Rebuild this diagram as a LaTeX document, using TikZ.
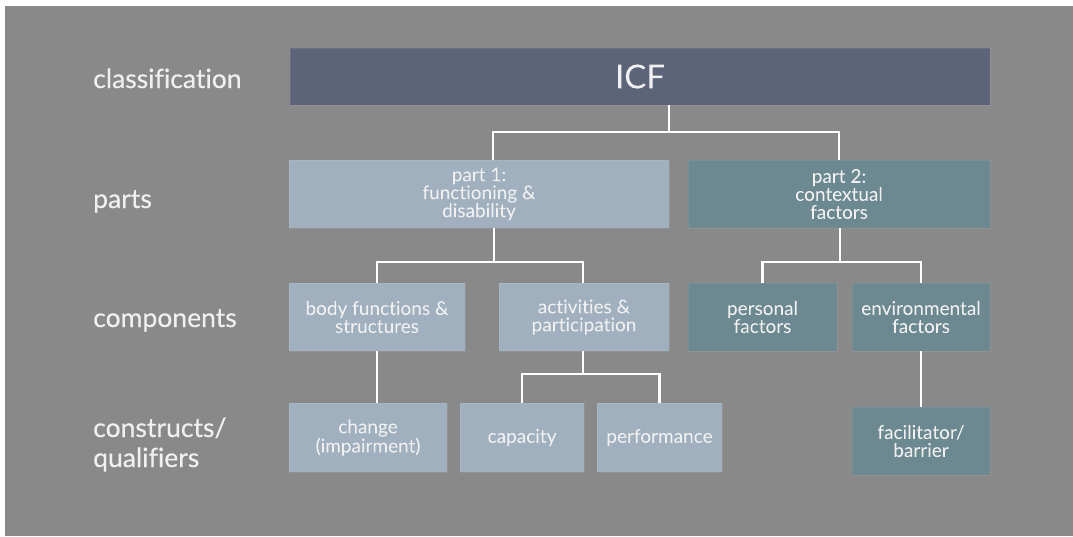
\documentclass[tikz,border=0pt]{standalone}
\usepackage{fontspec}
\setmainfont{Lato}[Ligatures=NoCommon, FakeBold=0.35]
\usetikzlibrary{calc}
\definecolor{bggray}{HTML}{898989}
\definecolor{slate}{HTML}{5D6479}
\definecolor{paleblue}{HTML}{A0B0BF}
\definecolor{teal}{HTML}{6C8890}
\definecolor{ink}{HTML}{F0F0F0}
\tikzset{
  box/.style={rectangle, inner sep=0pt, text=ink, align=center,
    font=\fontsize{19}{18}\selectfont, draw=white, draw opacity=0.08, line width=0.8pt},
  pbox/.style={box, fill=paleblue},
  tbox/.style={box, fill=teal},
  rowlabel/.style={anchor=base west, text=ink, inner sep=0pt, font=\fontsize{26.5}{30}\selectfont},
  link/.style={draw=white, line width=2.6pt}
}
\begin{document}
\begin{tikzpicture}[x=1pt, y=-1pt]
  % page and backdrop
  \fill[white] (0,0) rectangle (1073,536);
  \fill[bggray] (5,6) rectangle (1073,536);
  \useasboundingbox (0,0) rectangle (1073,536);

  % row labels
  \node[rowlabel] (lclass) at (93,88) {classification};
  \node[rowlabel] (lparts) at (93,208) {parts};
  \node[rowlabel] (lcomp) at (93,327) {components};
  \node[rowlabel] (lcons) at (93,437) {constructs/};
  \node[rowlabel] (lqual) at (93,467) {qualifiers};

  % classification
  \node[box, fill=slate, minimum width=700pt, minimum height=57pt,
        font=\fontsize{33}{36}\selectfont] (icf) at (640,76.5) {ICF};

  % parts
  \node[pbox, minimum width=380pt, minimum height=68pt] (p1) at (479,194)
    {part 1:\\functioning \&\\disability};
  \node[tbox, minimum width=302pt, minimum height=68pt] (p2) at (839,194)
    {part 2:\\contextual\\factors};

  % components
  \node[pbox, minimum width=176pt, minimum height=68pt] (body) at (377,317)
    {body functions \&\\structures};
  \node[pbox, minimum width=170pt, minimum height=68pt] (act) at (584,317)
    {activities \&\\participation};
  \node[tbox, minimum width=149pt, minimum height=68pt] (pers) at (762.5,317)
    {personal\\factors};
  \node[tbox, minimum width=138pt, minimum height=68pt] (env) at (921,317)
    {environmental\\factors};

  % constructs / qualifiers
  \node[pbox, minimum width=158pt, minimum height=69pt] (chg) at (368,437.5)
    {change\\(impairment)};
  \node[pbox, minimum width=124pt, minimum height=69pt] (cap) at (522,437.5)
    {capacity};
  \node[pbox, minimum width=125pt, minimum height=69pt] (perf) at (659.5,437.5)
    {performance};
  \node[tbox, minimum width=138pt, minimum height=68pt] (fac) at (921,441)
    {facilitator/\\barrier};

  % junction points of the tree
  \coordinate (j0) at (669,132);
  \coordinate (j1) at (494,262);
  \coordinate (j2) at (840,262);
  \coordinate (j3) at (583,374);

  % connectors
  \draw[link] (icf.south -| j0) -- (j0);
  \draw[link] (j0) -| ($(p1.north)+(14,0)$);
  \draw[link] (j0) -| (p2.north);

  \draw[link] (p1.south -| j1) -- (j1);
  \draw[link] (j1) -| (body.north);
  \draw[link] (j1) -| (act.north -| 583,0);

  \draw[link] (p2.south -| j2) -- (j2);
  \draw[link] (j2) -| (pers.north);
  \draw[link] (j2) -| (env.north);

  \draw[link] (body.south) -- (body.south |- chg.north);

  \draw[link] (act.south -| j3) -- (j3);
  \draw[link] (j3) -| (cap.north);
  \draw[link] (j3) -| (perf.north);

  \draw[link] (env.south) -- (fac.north);
\end{tikzpicture}
\end{document}
